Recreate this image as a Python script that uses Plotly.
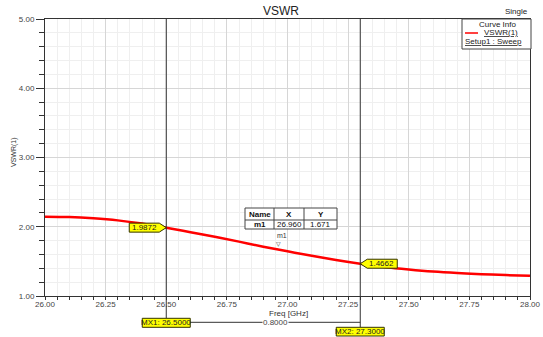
import plotly.graph_objects as go

# ---------------- data ----------------
freq = [26.0, 26.1, 26.2, 26.3, 26.4, 26.5, 26.6, 26.7, 26.8, 26.9, 27.0,
        27.1, 27.2, 27.3, 27.4, 27.5, 27.6, 27.7, 27.8, 27.9, 28.0]
vswr = [2.145, 2.140, 2.122, 2.092, 2.046, 1.987, 1.922, 1.855, 1.785, 1.712, 1.645,
        1.580, 1.520, 1.466, 1.420, 1.384, 1.354, 1.332, 1.315, 1.302, 1.292]

mx_names = ["MX1", "MX2"]
mx_freq = [26.5, 27.3]
mx_vswr = [1.9872, 1.4662]

m_name = "m1"
m_freq = 26.960
m_vswr = 1.671

x_ticks = [26.0, 26.25, 26.5, 26.75, 27.0, 27.25, 27.5, 27.75, 28.0]
y_ticks = [1.0, 2.0, 3.0, 4.0, 5.0]

# ---------------- layout geometry ----------------
W, H = 543, 337
L, R, T, B = 45, 13, 19, 41
PW, PH = W - L - R, H - T - B


def px(x):
    return (x - L) / PW


def py(y):
    return (H - B - y) / PH


FONT = "Liberation Sans, Arial, sans-serif"
DARK = "#333333"

fig = go.Figure()
fig.add_trace(go.Scatter(x=freq, y=vswr, mode="lines", line=dict(color="#ff0000", width=2.5, shape="spline"),
                         name="VSWR(1)", showlegend=False, hoverinfo="x+y"))

shapes = []
annotations = []

# marker vertical lines, bottom boxes
box_bottoms = [327.3, 336.0]
box_tops = [318.3, 327.3]
for i, (n, f, v) in enumerate(zip(mx_names, mx_freq, mx_vswr)):
    shapes.append(dict(type="line", xref="x", yref="paper", x0=f, x1=f, y0=py(box_tops[i]), y1=1,
                       line=dict(color=DARK, width=1), layer="above"))
# delta line
shapes.append(dict(type="line", xref="x", yref="paper", x0=mx_freq[0], x1=mx_freq[1],
                   y0=py(322.3), y1=py(322.3), line=dict(color=DARK, width=1), layer="above"))
for i, (n, f, v) in enumerate(zip(mx_names, mx_freq, mx_vswr)):
    shapes.append(dict(type="rect", xref="x", yref="paper", xsizemode="pixel", xanchor=f, x0=-24, x1=24,
                       y0=py(box_bottoms[i]), y1=py(box_tops[i]),
                       fillcolor="#ffff00", line=dict(color="#333300", width=1), layer="above"))
    annotations.append(dict(x=f, y=(py(box_bottoms[i]) + py(box_tops[i])) / 2, xref="x", yref="paper",
                            text=f"{n}: {f:.4f}", showarrow=False, font=dict(family=FONT, size=8, color="#222"),
                            xanchor="center", yanchor="middle"))
annotations.append(dict(x=(mx_freq[0] + mx_freq[1]) / 2, y=py(322.3), xref="x", yref="paper", xshift=12,
                        text=f"{mx_freq[1] - mx_freq[0]:.4f}", showarrow=False, bgcolor="white",
                        font=dict(family=FONT, size=8, color="#444"), xanchor="center", yanchor="middle",
                        borderpad=0))

# yellow value flags on the curve
sides = [-1, 1]
for f, v, s in zip(mx_freq, mx_vswr, sides):
    path = f"M0,0 L{7*s},4.5 L{37*s},4.5 L{37*s},-4.5 L{7*s},-4.5 Z"
    shapes.append(dict(type="path", xref="x", yref="y", xsizemode="pixel", ysizemode="pixel",
                       xanchor=f, yanchor=v, path=path, fillcolor="#ffff00",
                       line=dict(color="#333300", width=1), layer="above"))
    annotations.append(dict(x=f, y=v, xref="x", yref="y", xshift=21.5 * s, text=f"{v:.4f}", showarrow=False,
                            font=dict(family=FONT, size=8, color="#222"), xanchor="center", yanchor="middle"))

# m1 marker label
annotations.append(dict(x=m_freq, y=m_vswr, xref="x", yref="y", text=m_name, showarrow=False, yshift=9, xshift=4,
                        font=dict(family=FONT, size=7, color="#333"), xanchor="center", yanchor="bottom"))
annotations.append(dict(x=m_freq, y=m_vswr, xref="x", yref="y", text="▽", showarrow=False, yshift=1, xshift=1,
                        font=dict(family="DejaVu Sans", size=6, color="#333"), xanchor="center", yanchor="bottom"))

# marker table
cols = [245, 274, 304, 337]
rows = [208, 220, 229]
shapes.append(dict(type="rect", xref="paper", yref="paper", x0=px(cols[0]), x1=px(cols[-1]),
                   y0=py(rows[-1]), y1=py(rows[0]), fillcolor="white", line=dict(color="#444", width=1)))
for c in cols[1:-1]:
    shapes.append(dict(type="line", xref="paper", yref="paper", x0=px(c), x1=px(c),
                       y0=py(rows[-1]), y1=py(rows[0]), line=dict(color="#444", width=1)))
shapes.append(dict(type="line", xref="paper", yref="paper", x0=px(cols[0]), x1=px(cols[-1]),
                   y0=py(rows[1]), y1=py(rows[1]), line=dict(color="#444", width=1)))
header = ["Name", "X", "Y"]
row_vals = [m_name, f"{m_freq:.3f}", f"{m_vswr:.3f}"]
for j in range(3):
    cx = px((cols[j] + cols[j + 1]) / 2)
    annotations.append(dict(x=cx, y=py((rows[0] + rows[1]) / 2), xref="paper", yref="paper",
                            text=f"<b>{header[j]}</b>", showarrow=False,
                            font=dict(family=FONT, size=8, color="#111"), xanchor="center", yanchor="middle"))
    txt = f"<b>{row_vals[j]}</b>" if j == 0 else row_vals[j]
    annotations.append(dict(x=cx, y=py((rows[1] + rows[2]) / 2), xref="paper", yref="paper",
                            text=txt, showarrow=False,
                            font=dict(family=FONT, size=8, color="#111"), xanchor="center", yanchor="middle"))

# curve info box
shapes.append(dict(type="rect", xref="paper", yref="paper", x0=px(462), x1=px(531), y0=py(49), y1=py(19),
                   fillcolor="white", line=dict(color="#444", width=1)))
shapes.append(dict(type="line", xref="paper", yref="paper", x0=px(465), x1=px(478), y0=py(33), y1=py(33),
                   line=dict(color="#ff0000", width=1.5)))
annotations.append(dict(x=px(497), y=py(25), xref="paper", yref="paper", text="Curve Info", showarrow=False,
                        font=dict(family=FONT, size=8, color="#222"), xanchor="center", yanchor="middle"))
annotations.append(dict(x=px(482), y=py(32.5), xref="paper", yref="paper", text="<u>VSWR(1)</u>", showarrow=False,
                        font=dict(family=FONT, size=8, color="#222"), xanchor="left", yanchor="middle"))
annotations.append(dict(x=px(463), y=py(42), xref="paper", yref="paper", text="<u>Setup1 : Sweep</u>",
                        showarrow=False, font=dict(family=FONT, size=8, color="#222"),
                        xanchor="left", yanchor="middle"))

# titles
annotations.append(dict(x=px(281), y=py(10.5), xref="paper", yref="paper", text="VSWR", showarrow=False,
                        font=dict(family=FONT, size=12, color="#222"), xanchor="center", yanchor="middle"))
annotations.append(dict(x=px(530), y=py(11), xref="paper", yref="paper", text="Single", showarrow=False,
                        font=dict(family=FONT, size=8, color="#222"), xanchor="right", yanchor="middle"))
annotations.append(dict(x=px(288), y=py(313), xref="paper", yref="paper", text="Freq [GHz]", showarrow=False,
                        font=dict(family=FONT, size=8, color="#333"), xanchor="center", yanchor="middle"))
annotations.append(dict(x=px(14), y=py(152), xref="paper", yref="paper", text="VSWR(1)", showarrow=False,
                        textangle=-90, font=dict(family=FONT, size=7, color="#333"),
                        xanchor="center", yanchor="middle"))

fig.update_layout(
    width=W, height=H, margin=dict(l=L, r=R, t=T, b=B, pad=0, autoexpand=False),
    paper_bgcolor="white", plot_bgcolor="white",
    font=dict(family=FONT, size=8, color="#444"),
    shapes=shapes, annotations=annotations, showlegend=False,
    xaxis=dict(range=[26.0, 28.0], tickvals=x_ticks, tickformat=".2f", ticks="outside", ticklen=3,
               automargin=False, ticklabelstandoff=-3,
               tickcolor=DARK, showline=True, linecolor=DARK, linewidth=1, mirror=True,
               showgrid=True, gridcolor="#d6d6d6", gridwidth=1, zeroline=False,
               tickfont=dict(family=FONT, size=8, color="#444"),
               minor=dict(dtick=0.05, tick0=26.0, showgrid=True, gridcolor="#efefef", ticks="outside",
                          ticklen=3, tickcolor=DARK)),
    yaxis=dict(range=[1.0, 5.0], tickvals=y_ticks, tickformat=".2f", ticks="outside", ticklen=8,
               automargin=False,
               tickcolor=DARK, showline=True, linecolor=DARK, linewidth=1, mirror=True,
               showgrid=True, gridcolor="#d6d6d6", gridwidth=1, zeroline=False,
               tickfont=dict(family=FONT, size=8, color="#444"),
               minor=dict(dtick=0.2, tick0=1.0, showgrid=True, gridcolor="#efefef", ticks="outside",
                          ticklen=5, tickcolor=DARK)),
)

fig.write_html("out.html")
